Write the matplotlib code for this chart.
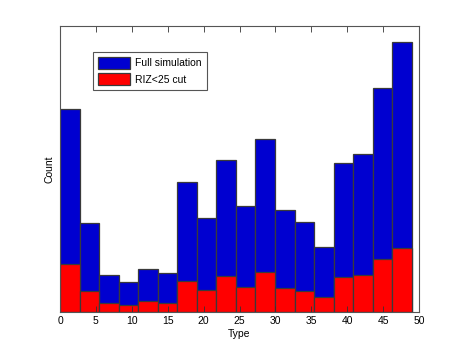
import numpy as np
import matplotlib
matplotlib.use("Agg")
import matplotlib.pyplot as plt

plt.rcParams['font.family'] = ['Liberation Sans', 'DejaVu Sans']

# 18 bins spanning type 0..49 (histogram counts, arbitrary units)
n_bins = 18
type_min = 0
type_max = 49
full_sim = [203, 89, 37, 30, 43, 39, 130, 94, 152, 106, 173, 102, 90, 65, 149, 158, 224, 270]
riz_cut = [48, 21, 9, 7, 11, 9, 31, 22, 36, 25, 40, 24, 21, 15, 35, 37, 53, 64]

edges = np.linspace(type_min, type_max, n_bins + 1)
width = edges[1] - edges[0]

fig = plt.figure(figsize=(4.63, 3.51), dpi=100)
ax = fig.add_axes([0.1296, 0.1111, 0.7754, 0.8149])

ax.bar(edges[:-1], full_sim, width=width, align='edge', color='#0000d0',
       edgecolor='#3a3a3a', linewidth=0.9, label='Full simulation')
ax.bar(edges[:-1], riz_cut, width=width, align='edge', color='#ff0000',
       edgecolor='#3a3a3a', linewidth=0.9, label='RIZ<25 cut')

ax.set_xlim(0, 50)
ax.set_ylim(0, 286)
ax.set_xticks(np.arange(0, 51, 5))
ax.set_yticks([])
ax.tick_params(axis='x', direction='in', top=True, length=4, width=0.6,
               labelsize=7.5, pad=3, color='#333333')
for s in ax.spines.values():
    s.set_color('#555555')
    s.set_linewidth(0.8)

ax.set_xlabel('Type', fontsize=7.5, labelpad=2)
ax.set_ylabel('Count', fontsize=7.5, labelpad=4)

leg = ax.legend(loc='upper left', bbox_to_anchor=(0.091, 0.91), fontsize=7.5,
                fancybox=False, framealpha=1, edgecolor='#555555',
                handlelength=3.1, handleheight=1.4, borderpad=0.5,
                labelspacing=0.4, handletextpad=0.5, borderaxespad=0)
leg.get_frame().set_linewidth(0.8)

fig.savefig('out.png', dpi=100)
